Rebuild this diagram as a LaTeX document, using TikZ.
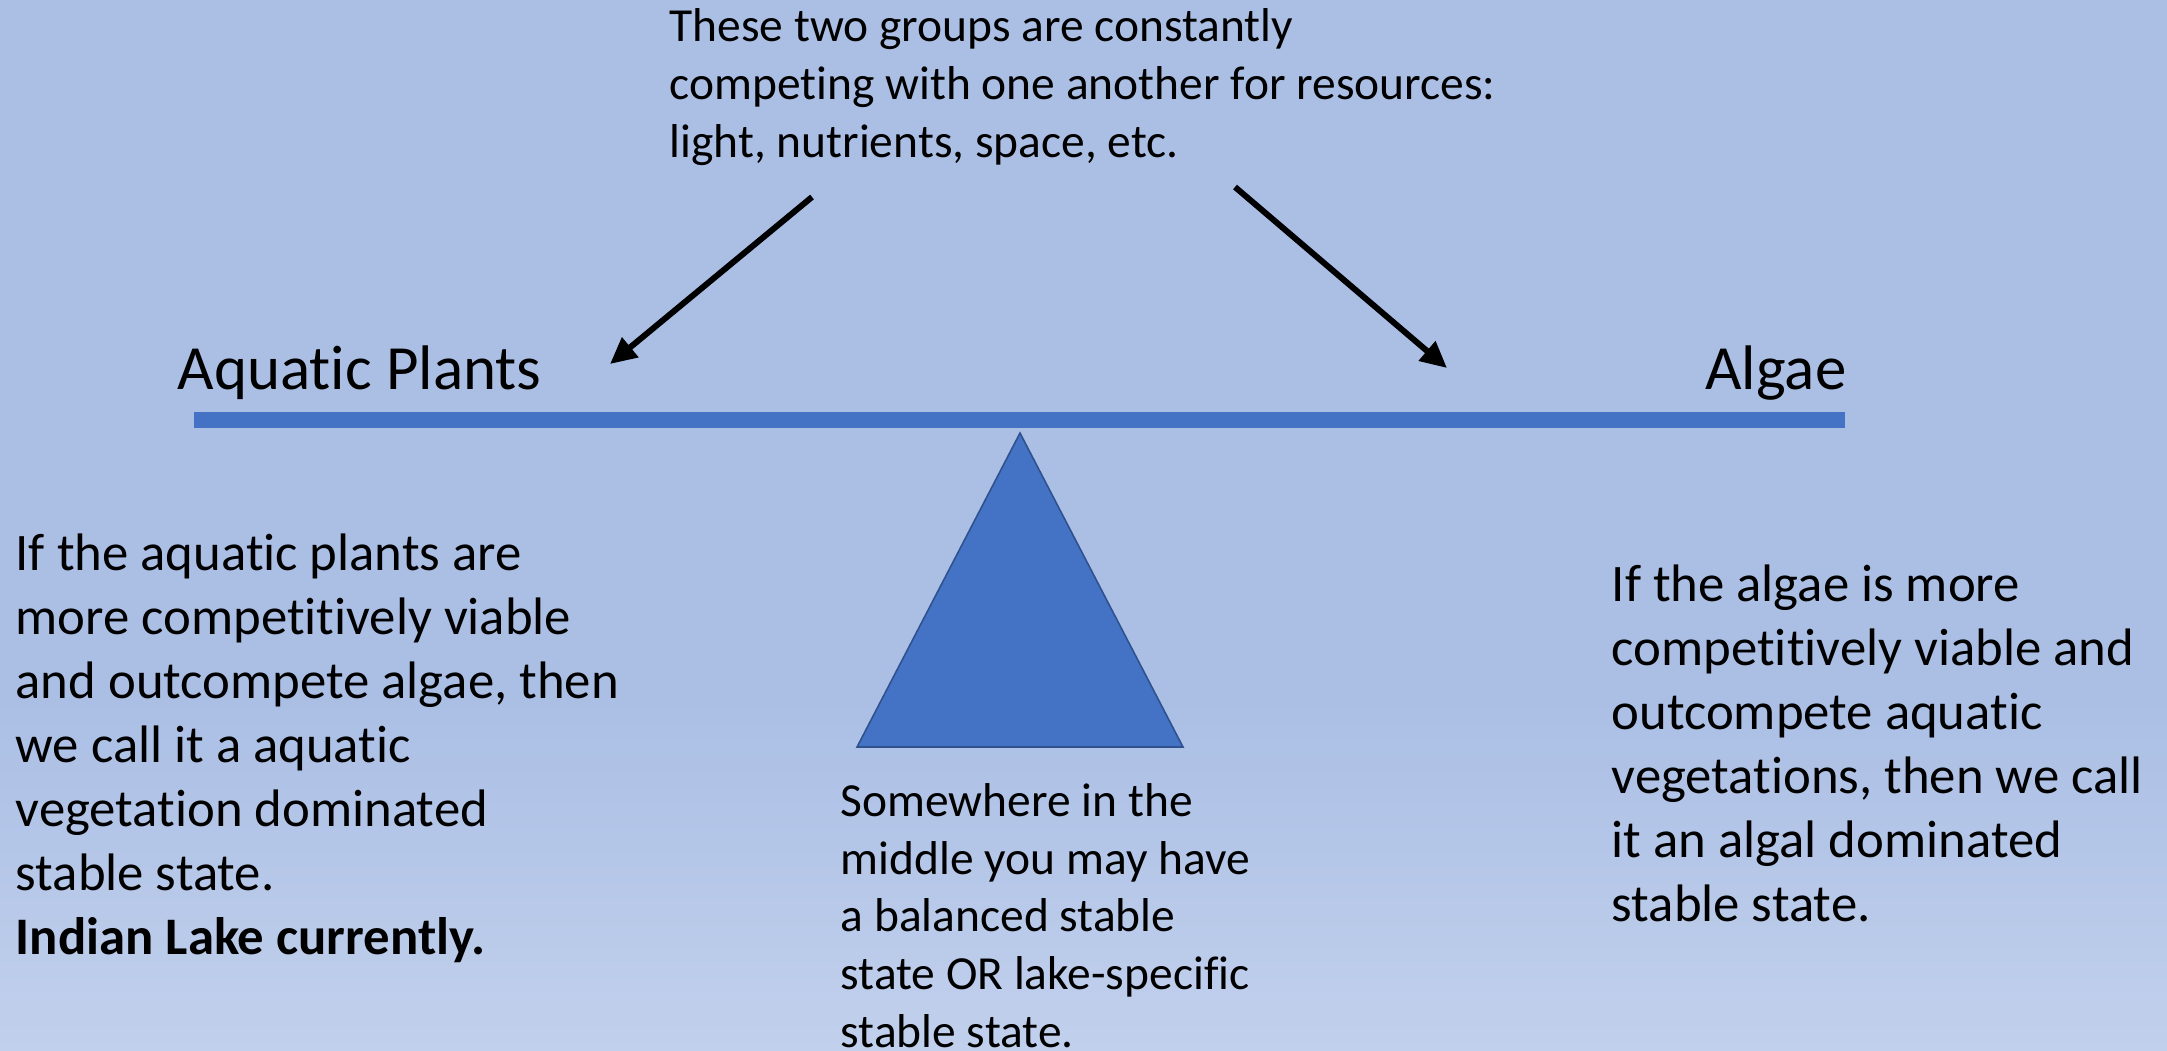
\documentclass[tikz,border=0pt]{standalone}
\usepackage{fontspec}
\setmainfont{Carlito}[Ligatures=NoCommon]
\usetikzlibrary{arrows.meta}

\definecolor{slidetop}{RGB}{171,191,229}
\definecolor{slidebottom}{RGB}{193,208,236}
\definecolor{beamblue}{RGB}{68,114,196}
\definecolor{beamedge}{RGB}{47,82,143}

\begin{document}
\begin{tikzpicture}[
	x=0.01cm, y=-0.01cm,
	smalltext/.style={ anchor=base west, align=left, inner sep=0pt, font=\fontsize{13.5}{16.4}\selectfont },
	bigtext/.style={ anchor=base west, align=left, inner sep=0pt, font=\fontsize{15}{18.2}\selectfont },
	sidelabel/.style={ inner sep=0pt, font=\fontsize{17.9}{21.5}\selectfont },
	pointer/.style={ line width=1.7pt, -{Triangle[length=7.5pt,width=7pt]} }
]

% slide background, lighter towards the bottom
\useasboundingbox (0,0) rectangle (2167,1050);
\fill[slidetop] (0,0) rectangle (2167,1050);
\shade[top color=slidetop, bottom color=slidebottom, draw=none] (0,700) rectangle (2167,1050);

% seesaw: beam and pivot
\fill[beamblue] (194,412) rectangle (1845,428);
\draw[beamedge, line width=0.45pt, fill=beamblue, line join=miter] (1020,433) -- (1183,747) -- (857,747) -- cycle;

\node at (177,389) (plants) [sidelabel, anchor=base west] {Aquatic Plants};
\node at (1847,389) (algae) [sidelabel, anchor=base east] {Algae};

% text blocks sit on the baseline of their last line
\node at (669,157) (compete) [smalltext] {These two groups are constantly\\
	competing with one another for resources:\\
	light, nutrients, space, etc.};

\coordinate (lfrom) at (812,197);
\coordinate (lto) at (610,364);
\coordinate (rfrom) at (1235,187);
\coordinate (rto) at (1447,368);
\draw[pointer] (lfrom) -- (lto);
\draw[pointer] (rfrom) -- (rto);

\node at (15,954) (plantstate) [bigtext] {If the aquatic plants are\\
	more competitively viable\\
	and outcompete algae, then\\
	we call it a aquatic\\
	vegetation dominated\\
	stable state.\\
	\textbf{Indian Lake currently.}};

\node at (1611,921) (algaestate) [bigtext] {If the algae is more\\
	competitively viable and\\
	outcompete aquatic\\
	vegetations, then we call\\
	it an algal dominated\\
	stable state.};

\node at (840,1047) (balance) [smalltext] {Somewhere in the\\
	middle you may have\\
	a balanced stable\\
	state OR lake-specific\\
	stable state.};

\end{tikzpicture}
\end{document}
